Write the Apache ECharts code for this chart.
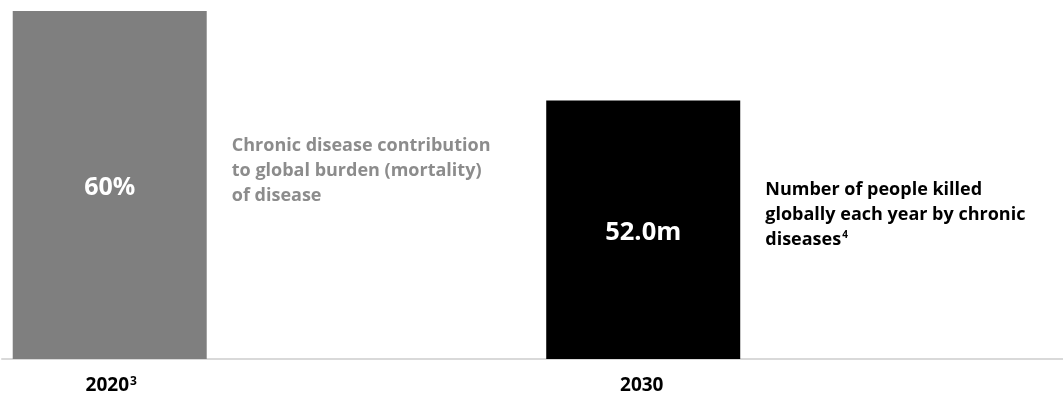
<!DOCTYPE html>
<html>
<head>
<meta charset="utf-8">
<script src="https://cdn.jsdelivr.net/npm/echarts@6/dist/echarts.min.js"></script>
<style>
  html, body { margin: 0; padding: 0; background: #ffffff; }
  #chart { width: 1063px; height: 396px; }
</style>
</head>
<body>
<div id="chart"></div>
<script>
// Years on the category axis, with their footnote markers
const categories = ['2020', '2030'];
const footnotes = ['3', ''];

// Share of global mortality burden (%) and deaths per year (millions)
const shareValues = [60, '-'];
const deathValues = ['-', 52.0];

// Value captions drawn inside each bar
const valueLabels = ['60%', '52.0m'];

// Descriptive notes set beside each bar
const shareNote = ['Chronic disease contribution', 'to global burden (mortality)', 'of disease'];
const deathNote = ['Number of people killed', 'globally each year by chronic', 'diseases'];
const deathNoteFootnote = '4';

const FONT = '"Open Sans", sans-serif';
const BAR_W = 194;

const chart = echarts.init(document.getElementById('chart'));

function noteText(lines, foot) {
  const body = lines.map(l => '{t|' + l + '}');
  if (foot) body[body.length - 1] += '{s|' + foot + '}';
  return body.join('\n');
}

const option = {
  backgroundColor: '#ffffff',
  animation: false,
  grid: { left: 2, right: -1, top: 11, bottom: 37, containLabel: false },
  xAxis: [
    {
      type: 'category',
      data: categories,
      axisLine: { lineStyle: { color: '#d9d9d9', width: 2 } },
      axisTick: { show: false },
      axisLabel: {
        margin: 17,
        // the trailing spacer pulls each year back under its bar
        formatter: (v, i) => '{y|' + v + '}' + (footnotes[i] ? '{s|' + footnotes[i] + '}' : '') + '{gap| }',
        rich: {
          y: { fontFamily: FONT, fontSize: 19, fontWeight: 'bold', color: '#000', lineHeight: 20 },
          s: { fontFamily: FONT, fontSize: 12, fontWeight: 'bold', color: '#000', lineHeight: 20, verticalAlign: 'top', padding: [0, 0, 6, 1] },
          gap: { width: 312, fontSize: 19, lineHeight: 20 }
        }
      }
    },
    { type: 'category', data: categories, show: false }
  ],
  yAxis: [
    { type: 'value', min: 0, max: 60, show: false },
    { type: 'value', min: 0, max: 70, show: false }
  ],
  series: [
    {
      name: 'Share of mortality',
      type: 'bar',
      xAxisIndex: 0, yAxisIndex: 0,
      data: shareValues,
      barWidth: BAR_W,
      barGap: '62.4%',
      itemStyle: { color: '#7f7f7f' },
      label: {
        show: true, position: 'inside', offset: [0, 3],
        formatter: p => valueLabels[p.dataIndex],
        fontFamily: FONT, fontSize: 25, fontWeight: 'bold', color: '#ffffff'
      }
    },
    {
      name: 'Share note',
      type: 'bar',
      xAxisIndex: 0, yAxisIndex: 0,
      data: shareValues,
      barWidth: BAR_W,
      barGap: '62.4%',
      itemStyle: { color: 'rgba(0,0,0,0)' },
      label: {
        show: true, position: 'insideLeft', distance: 0, offset: [-96, -14],
        formatter: () => noteText(shareNote),
        rich: {
          t: { fontFamily: FONT, fontSize: 18, fontWeight: 'bold', color: '#8c8c8c', lineHeight: 25 }
        }
      }
    },
    {
      name: 'Deaths per year',
      type: 'bar',
      xAxisIndex: 1, yAxisIndex: 1,
      data: deathValues,
      barWidth: BAR_W,
      barGap: '59.3%',
      itemStyle: { color: '#000000' },
      label: {
        show: true, position: 'inside', offset: [0, 3],
        formatter: p => valueLabels[p.dataIndex],
        fontFamily: FONT, fontSize: 25.5, fontWeight: 'bold', color: '#ffffff'
      }
    },
    {
      name: 'Deaths note',
      type: 'bar',
      xAxisIndex: 1, yAxisIndex: 1,
      data: deathValues,
      barWidth: BAR_W,
      barGap: '59.3%',
      itemStyle: { color: 'rgba(0,0,0,0)' },
      label: {
        show: true, position: 'insideLeft', distance: 0, offset: [-90, -15],
        formatter: () => noteText(deathNote, deathNoteFootnote),
        rich: {
          t: { fontFamily: FONT, fontSize: 18, fontWeight: 'bold', color: '#000000', lineHeight: 25 },
          s: { fontFamily: FONT, fontSize: 10, fontWeight: 'bold', color: '#000000', lineHeight: 25, verticalAlign: 'top', padding: [3, 0, 0, 1] }
        }
      }
    }
  ]
};

chart.setOption(option);
</script>
</body>
</html>
